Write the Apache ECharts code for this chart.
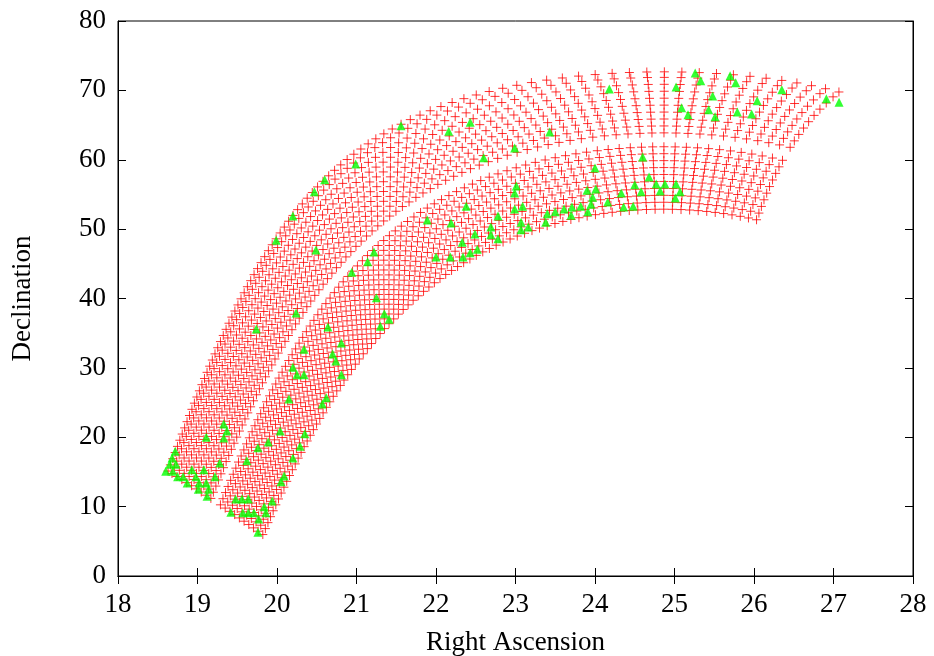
<!DOCTYPE html>
<html>
<head>
<meta charset="utf-8">
<script src="https://cdn.jsdelivr.net/npm/echarts@6/dist/echarts.min.js"></script>
<style>
html,body{margin:0;padding:0;background:#fff;}
#chart{width:934px;height:656px;}
</style>
</head>
<body>
<div id="chart"></div>
<script>
// ---- Data -------------------------------------------------------------
// Survey pointing grid (red '+'): regular grid in galactic coordinates,
// two strips either side of the Galactic plane (read off the picture:
// strips start at l = 45 deg, end at l = 134 deg, |b| from 1 to 10 deg).
var gridLonStart = 45, gridLonEnd = 134, gridLonStep = 1;
var latUpper = [1, 2, 3, 4, 5, 6, 7, 8, 9, 9.8];
var latLower = [-1, -2, -3, -4, -5, -6, -7, -8, -9, -10];

// Green triangles: [Right Ascension (h), Declination (deg)]
var detectedUpper = [
  [18.60,15.1],[18.69,15.1],[18.65,16.1],[18.73,16.1],[18.68,17.0],[18.72,18.0],
  [18.75,14.3],[18.82,14.3],[18.87,13.4],[18.93,15.3],[18.98,14.3],[19.02,13.4],
  [19.01,12.5],[19.08,15.3],[19.11,13.4],[19.14,12.5],[19.12,11.5],[19.22,14.3],
  [19.28,16.3],[19.11,20.0],[19.33,21.9],[19.37,20.9],[19.33,19.9],[19.74,35.6],
  [20.24,37.9],[19.99,48.4],[20.20,51.9],[20.49,47.0],[20.47,55.4],[20.60,57.1],
  [20.99,59.4],[21.56,64.9],[22.16,64.1],[22.43,65.4],[22.60,60.3],[22.99,61.7],
  [23.43,64.0],[24.18,70.2],[25.02,70.5],[25.26,72.5],[25.33,71.4],[25.70,72.1],
  [25.77,71.1],[25.48,69.2],[25.09,67.5],[25.17,66.5],[25.43,67.2],[25.51,66.2],
  [25.79,66.9],[25.97,66.6],[26.04,68.5],[26.35,70.1],[26.91,68.8],[27.07,68.3]
];
var detectedLower = [
  [19.48,11.1],[19.56,11.1],[19.64,11.1],[19.42,9.2],[19.57,9.1],[19.64,9.1],
  [19.71,9.1],[19.86,9.1],[19.77,8.2],[19.76,6.3],[19.84,10.0],[19.94,10.8],
  [20.05,13.6],[20.09,14.4],[19.62,16.6],[20.20,17.0],[19.76,18.5],[20.29,18.7],
  [19.89,19.3],[20.35,20.5],[20.04,20.9],[20.15,25.5],[20.62,25.7],[20.57,24.8],
  [20.20,30.1],[20.25,29.0],[20.34,29.0],[20.81,29.0],[20.34,32.7],[20.70,32.0],
  [20.74,31.0],[20.81,33.6],[20.64,35.9],
  [20.94,43.8],[21.14,45.3],[21.25,40.1],[21.35,37.8],[21.41,37.0],[21.30,36.0],
  [21.22,46.7],[22.00,46.0],[22.18,46.0],[22.34,46.0],[22.43,46.6],[22.52,47.1],
  [22.33,48.1],[22.49,49.3],[22.69,49.2],[22.78,48.6],[22.69,50.3],[22.78,51.9],
  [22.38,53.3],[21.89,51.3],[22.19,50.9],[22.99,52.9],[23.09,53.3],[22.99,55.2],
  [23.01,56.2],[23.07,51.0],[23.16,50.3],[23.07,49.9],[23.38,51.0],[23.40,52.2],
  [23.50,52.5],[23.61,52.9],[23.70,52.0],[23.71,53.2],[23.82,53.3],[23.91,52.5],
  [23.95,53.6],[23.97,54.6],[23.90,55.6],[24.01,55.8],[24.16,53.9],[24.36,53.2],
  [24.48,53.3],[24.33,55.2],[24.58,55.4],[24.82,55.5],[25.07,55.4],[25.01,54.5],
  [24.50,56.4],[24.77,56.5],[24.88,56.5],[25.02,56.5],[24.68,57.5],[24.60,60.4],
  [24.00,58.8]
];

// Axis ticks
var xTicks = {min: 18, max: 28, step: 1};
var yTicks = {min: 0, max: 80, step: 10};

// ---- Galactic -> equatorial (J2000), RA in hours on an 18..30 range ----
function galToEq(lDeg, bDeg) {
  var d2r = Math.PI / 180;
  var aG = 192.85948, dG = 27.12825, lN = 122.93192;
  var b = bDeg * d2r;
  var sd = Math.sin(b) * Math.sin(dG * d2r) + Math.cos(b) * Math.cos(dG * d2r) * Math.cos((lN - lDeg) * d2r);
  var dec = Math.asin(sd) / d2r;
  var y = Math.cos(b) * Math.sin((lN - lDeg) * d2r);
  var x = Math.sin(b) * Math.cos(dG * d2r) - Math.cos(b) * Math.sin(dG * d2r) * Math.cos((lN - lDeg) * d2r);
  var ra = aG + Math.atan2(y, x) / d2r;
  ra = ((ra % 360) + 360) % 360;
  var h = ra / 15;
  if (h < 12) h += 24;
  return [h, dec];
}
function buildGrid(lats) {
  var pts = [];
  for (var l = gridLonStart; l <= gridLonEnd + 1e-9; l += gridLonStep) {
    for (var i = 0; i < lats.length; i++) pts.push(galToEq(l, lats[i]));
  }
  return pts;
}
var gridPoints = buildGrid(latUpper).concat(buildGrid(latLower));
var detected = detectedUpper.concat(detectedLower);

// ---- Chart -------------------------------------------------------------
var FONT = '"Liberation Serif", "DejaVu Serif", serif';
var chart = echarts.init(document.getElementById('chart'), null, {renderer: 'canvas'});
var tickStyle = {inside: true, length: 8, lineStyle: {color: '#000', width: 1}};
var lineStyle = {show: true, lineStyle: {color: '#000', width: 1}};
chart.setOption({
  animation: false,
  backgroundColor: '#fff',
  grid: {left: 118, right: 21, top: 21, bottom: 80, show: true, borderColor: '#000', borderWidth: 1,
         containLabel: false, outerBoundsMode: 'none'},
  xAxis: [{
    type: 'value', min: xTicks.min, max: xTicks.max, interval: xTicks.step, position: 'bottom',
    axisLine: lineStyle, axisTick: tickStyle, splitLine: {show: false},
    axisLabel: {color: '#000', fontFamily: FONT, fontSize: 27, margin: 15},
    name: 'Right Ascension', nameLocation: 'middle', nameGap: 53,
    nameTextStyle: {color: '#000', fontFamily: FONT, fontSize: 27}
  }, {
    type: 'value', min: xTicks.min, max: xTicks.max, interval: xTicks.step, position: 'top',
    axisLine: lineStyle, axisTick: tickStyle, splitLine: {show: false}, axisLabel: {show: false}
  }],
  yAxis: [{
    type: 'value', min: yTicks.min, max: yTicks.max, interval: yTicks.step, position: 'left',
    axisLine: lineStyle, axisTick: tickStyle, splitLine: {show: false},
    axisLabel: {color: '#000', fontFamily: FONT, fontSize: 27, margin: 12},
    name: 'Declination', nameLocation: 'middle', nameGap: 82, nameRotate: 90,
    nameTextStyle: {color: '#000', fontFamily: FONT, fontSize: 27}
  }, {
    type: 'value', min: yTicks.min, max: yTicks.max, interval: yTicks.step, position: 'right',
    axisLine: lineStyle, axisTick: tickStyle, splitLine: {show: false}, axisLabel: {show: false}
  }],
  series: [{
    type: 'scatter', xAxisIndex: 0, yAxisIndex: 0,
    data: gridPoints,
    symbol: 'path://M0,5L10,5M5,0L5,10', symbolSize: 9,
    itemStyle: {color: 'rgba(0,0,0,0)', borderColor: '#ff0000', borderWidth: 1},
    silent: true
  }, {
    type: 'scatter', xAxisIndex: 0, yAxisIndex: 0,
    data: detected,
    symbol: 'triangle', symbolSize: 9,
    itemStyle: {color: '#00ff00'},
    silent: true
  }]
});
</script>
</body>
</html>
